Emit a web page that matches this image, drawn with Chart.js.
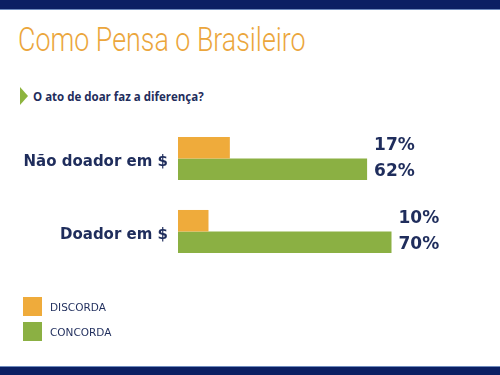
<!DOCTYPE html>
<html>
<head>
<meta charset="utf-8">
<script src="https://cdn.jsdelivr.net/npm/chart.js@4.4.1/dist/chart.umd.min.js"></script>
<style>
  html, body { margin: 0; padding: 0; background: #ffffff; }
  #pagina { position: relative; width: 500px; height: 375px; overflow: hidden; background: #ffffff; }
  #barraTopo { position: absolute; left: 0; top: 0; width: 500px; height: 9px; background: #0b1f63; border-bottom: 1px solid #6f8bbd; }
  #barraBase { position: absolute; left: 0; bottom: 0; width: 500px; height: 8px; background: #0b1f63; border-top: 1px solid #6f8bbd; }
  #titulo { position: absolute; left: 18px; top: 19px; margin: 0; font-family: Roboto, sans-serif; font-weight: 300;
            font-size: 34px; line-height: 40px; color: #eba63c; white-space: nowrap; transform-origin: 0 0; }
  #seta { position: absolute; left: 20px; top: 87px; width: 0; height: 0;
          border-top: 9.5px solid transparent; border-bottom: 9.5px solid transparent; border-left: 8px solid #8db43e; }
  #pergunta { position: absolute; left: 33px; top: 89px; font-family: "Open Sans", sans-serif; font-weight: 700;
              font-size: 11.5px; line-height: 16px; color: #1f2d5c; white-space: nowrap; }
  #legenda { position: absolute; left: 23px; top: 297px; font-family: "DejaVu Sans", sans-serif; font-size: 10.5px; color: #1f2d5c; }
  .item { height: 25px; position: relative; }
  .cor { position: absolute; left: 0; top: 0; width: 19px; height: 19px; }
  .nome { position: absolute; left: 27px; top: 2px; line-height: 16px; }
  #grafico { position: absolute; left: 0; top: 0; width: 500px; height: 375px; }
</style>
</head>
<body>
<div id="pagina">
  <div id="barraTopo"></div>
  <div id="titulo">Como Pensa o Brasileiro</div>
  <div id="seta"></div>
  <div id="pergunta">O ato de doar faz a diferença?</div>
  <div id="grafico"><canvas id="graficoDoacao"></canvas></div>
  <div id="legenda"></div>
  <div id="barraBase"></div>
</div>
<script>
const categorias = ['Não doador em $', 'Doador em $'];
const nomesSeries = ['DISCORDA', 'CONCORDA'];
const discorda = [17, 10];
const concorda = [62, 70];
const coresSeries = ['#efab3b', '#8bb043'];

const corTexto = '#1f2d5c';

// ajusta a largura do titulo (fonte condensada no original)
var titulo = document.getElementById('titulo');
titulo.style.transform = 'scaleX(' + (288 / titulo.offsetWidth) + ')';

// legenda em html
var legenda = document.getElementById('legenda');
nomesSeries.forEach(function (nome, i) {
    legenda.innerHTML += '<div class="item"><div class="cor" style="background:' + coresSeries[i] + '"></div>'
        + '<div class="nome">' + nome + '</div></div>';
});

// rotulos de porcentagem ao lado das barras
const rotulosPlugin = {
    id: 'rotulos',
    afterDatasetsDraw(chart) {
        const ctx = chart.ctx;
        ctx.save();
        ctx.font = 'bold 17px "DejaVu Sans"';
        ctx.fillStyle = corTexto;
        ctx.textAlign = 'left';
        ctx.textBaseline = 'middle';
        categorias.forEach(function (cat, j) {
            let fim = 0;
            chart.data.datasets.forEach(function (ds, i) {
                fim = Math.max(fim, chart.getDatasetMeta(i).data[j].x);
            });
            chart.data.datasets.forEach(function (ds, i) {
                const barra = chart.getDatasetMeta(i).data[j];
                const desloc = i == 0 ? -2 : 2;
                ctx.fillText(ds.data[j] + '%', fim + 7, barra.y + desloc);
            });
        });
        ctx.restore();
    }
};

new Chart(document.getElementById('graficoDoacao'), {
    type: 'bar',
    data: {
        labels: categorias,
        datasets: [
            { label: nomesSeries[0], data: discorda, backgroundColor: coresSeries[0] },
            { label: nomesSeries[1], data: concorda, backgroundColor: coresSeries[1] }
        ]
    },
    options: {
        indexAxis: 'y',
        responsive: true,
        maintainAspectRatio: false,
        animation: false,
        layout: { padding: { left: 0, top: 122, right: 17, bottom: 107 } },
        categoryPercentage: 0.59,
        barPercentage: 1.0,
        plugins: { legend: { display: false }, tooltip: { enabled: false } },
        scales: {
            x: { display: false, min: 0, max: 100 },
            y: {
                grid: { display: false },
                border: { display: false },
                ticks: {
                    padding: 2,
                    labelOffset: 4,
                    color: corTexto,
                    font: { family: 'DejaVu Sans', size: 15, weight: 'bold' }
                },
                afterFit: function (escala) { escala.width = 178; }
            }
        }
    },
    plugins: [rotulosPlugin]
});
</script>
</body>
</html>
